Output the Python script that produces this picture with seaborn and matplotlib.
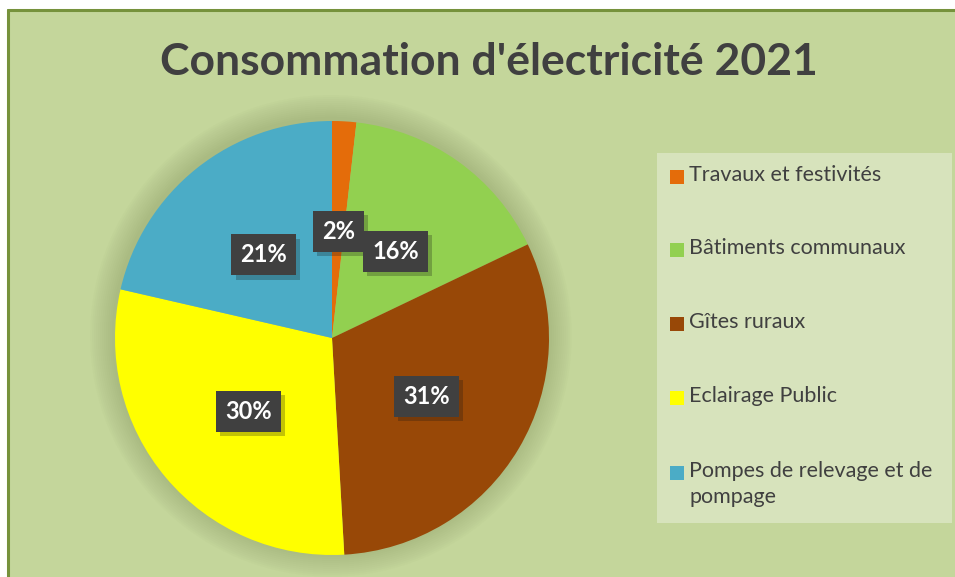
import matplotlib
matplotlib.use("Agg")
import matplotlib.pyplot as plt
import matplotlib.patches as mpatches
import matplotlib.patheffects as pe
import numpy as np
import seaborn as sns

categories = ["Travaux et festivités", "Bâtiments communaux", "Gîtes ruraux",
              "Eclairage Public", "Pompes de relevage et de\npompage"]
values = [1.8, 16.1, 31.2, 29.5, 21.4]
pct_labels = ["2%", "16%", "31%", "30%", "21%"]
colors = sns.color_palette(["#e46c0a", "#92d050", "#984807", "#ffff00", "#4bacc6"])

sns.set_style("white")
plt.rcParams["font.family"] = ["Lato", "DejaVu Sans"]

W, H = 955, 577
fig = plt.figure(figsize=(W / 100, H / 100), dpi=100)
fig.patch.set_facecolor("white")

# chart area with olive border on top/left
fig.patches.append(mpatches.Rectangle((7 / W, 0), 1, 1 - 9 / H, transform=fig.transFigure,
                                      facecolor="#c4d69b", edgecolor="none", zorder=-10))
fig.add_artist(plt.Line2D([7.5 / W, 1], [1 - 9.5 / H, 1 - 9.5 / H], color="#76923c", lw=2.2))
fig.add_artist(plt.Line2D([7.5 / W, 7.5 / W], [0, 1 - 9.5 / H], color="#76923c", lw=2.2))

fig.text(489 / W, 1 - 62 / H, "Consommation d'électricité 2021", ha="center", va="center",
         fontsize=32, fontweight="bold", color="#404040")

# pie
cx, cy, r = 332, 338, 217
pad = 1.25
ax = fig.add_axes([(cx - r * pad) / W, (H - cy - r * pad) / H, 2 * r * pad / W, 2 * r * pad / H])
ax.set_xlim(-pad, pad)
ax.set_ylim(-pad, pad)
ax.set_aspect("equal")
ax.axis("off")

# soft shadow
for i in range(12):
    rr = 1.0 + 0.11 * (12 - i) / 12
    ax.add_patch(mpatches.Circle((-0.005, 0.01), rr, facecolor="#6b7a45", alpha=0.025,
                                 edgecolor="none", zorder=1))

wedges, texts = ax.pie(values, colors=colors, startangle=90, counterclock=False,
                       radius=1.0, wedgeprops=dict(linewidth=0))
for w in wedges:
    w.set_zorder(2)

cum = np.cumsum([0] + values)
total = sum(values)
dist = 0.505
for i, lab in enumerate(pct_labels):
    mid = 90 - 360 * (cum[i] + values[i] / 2) / total
    x = dist * np.cos(np.radians(mid))
    y = dist * np.sin(np.radians(mid)) - 0.012
    t = ax.text(x, y, lab, ha="center", va="center", fontsize=17, fontweight="bold",
                color="white", zorder=5,
                bbox=dict(boxstyle="square,pad=0.38", facecolor="#404040", edgecolor="none"))
    t.get_bbox_patch().set_path_effects([pe.SimplePatchShadow(offset=(3, -3), alpha=0.25),
                                         pe.Normal()])

# legend box
lx0, ly0, lx1, ly1 = 657, 153, 952, 523
fig.patches.append(mpatches.Rectangle((lx0 / W, 1 - ly1 / H), (lx1 - lx0) / W, (ly1 - ly0) / H,
                                      transform=fig.transFigure, facecolor="#d7e3bc",
                                      edgecolor="none", zorder=1))
ys = [177, 250, 324, 398, 473]
for i, (cat, c) in enumerate(zip(categories, colors)):
    y = ys[i]
    fig.patches.append(mpatches.Rectangle((670 / W, 1 - (y + 7) / H), 14 / W, 14 / H,
                                          transform=fig.transFigure, facecolor=c,
                                          edgecolor="none", zorder=2))
    fig.text(689 / W, 1 - (y - 12) / H, cat, ha="left", va="top", fontsize=15.5,
             color="#404040", linespacing=1.35, zorder=3)

fig.savefig("out.png", dpi=100)
